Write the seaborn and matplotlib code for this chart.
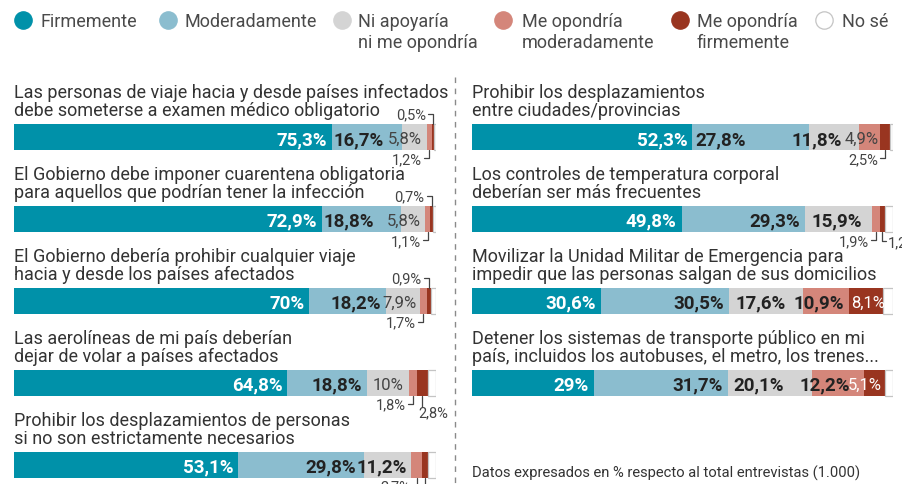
import matplotlib.pyplot as plt
import matplotlib as mpl
import numpy as np
import seaborn as sns
from matplotlib.lines import Line2D

sns.set_style('white')
mpl.rcParams['font.family'] = ['Roboto', 'DejaVu Sans']

W, H = 903, 485

CATEGORIES = ['Firmemente', 'Moderadamente', 'Ni apoyaría\nni me opondría',
              'Me opondría\nmoderadamente', 'Me opondría\nfirmemente', 'No sé']
COLORS = ['#0091a9', '#8bbdcf', '#d4d4d4', '#d4867a', '#993520', '#ffffff']

LEFT_ROWS = ['Las personas de viaje hacia y desde países infectados\ndebe someterse a examen médico obligatorio',
             'El Gobierno debe imponer cuarentena obligatoria\npara aquellos que podrían tener la infección',
             'El Gobierno debería prohibir cualquier viaje\nhacia y desde los países afectados',
             'Las aerolíneas de mi país deberían\ndejar de volar a países afectados',
             'Prohibir los desplazamientos de personas\nsi no son estrictamente necesarios']
LEFT_FIRME = [75.3, 72.9, 70.0, 64.8, 53.1]
LEFT_MODERADO = [16.7, 18.8, 18.2, 18.8, 29.8]
LEFT_NEUTRO = [5.8, 5.8, 7.9, 10.0, 11.2]
LEFT_OPON_MOD = [1.2, 1.1, 1.7, 1.8, 2.7]
LEFT_OPON_FIRME = [0.5, 0.7, 0.9, 2.8, 1.4]
LEFT_NOSE = [0.5, 0.7, 1.3, 1.8, 1.8]

RIGHT_ROWS = ['Prohibir los desplazamientos\nentre ciudades/provincias',
              'Los controles de temperatura corporal\ndeberían ser más frecuentes',
              'Movilizar la Unidad Militar de Emergencia para\nimpedir que las personas salgan de sus domicilios',
              'Detener los sistemas de transporte público en mi\npaís, incluidos los autobuses, el metro, los trenes...']
RIGHT_FIRME = [52.3, 49.8, 30.6, 29.0]
RIGHT_MODERADO = [27.8, 29.3, 30.5, 31.7]
RIGHT_NEUTRO = [11.8, 15.9, 17.6, 20.1]
RIGHT_OPON_MOD = [4.9, 1.9, 10.9, 12.2]
RIGHT_OPON_FIRME = [2.5, 1.2, 8.1, 5.1]
RIGHT_NOSE = [0.7, 1.9, 2.3, 1.9]

# layout (pixels)
ROW_PX = 82
BAR_PX = 26
BAR_H = BAR_PX / ROW_PX
YLIM = (4.2, -0.5)
TITLE_BASELINES = (27, 9)  # px above bar top, line 1 / line 2

# label placement tweaks: (panel, row, cat) -> (anchor, px offset)
INSIDE_POS = {
    ('L', 0, 1): ('left', 2), ('L', 1, 1): ('left', 2), ('R', 0, 1): ('left', 3),
    ('L', 4, 1): ('right', -8), ('L', 4, 2): ('right', -4), ('L', 2, 2): ('right', -3),
    ('R', 0, 2): ('right', -17), ('R', 1, 2): ('right', -10),
    ('R', 2, 2): ('left', 6), ('R', 3, 2): ('left', 6),
    ('R', 0, 3): ('right', -1), ('R', 3, 3): ('right', -14),
    ('R', 2, 4): ('left', 2), ('R', 3, 4): ('right', -3),
}
CALLOUTS = {
    ('L', 0, 3): 'below', ('L', 0, 4): 'above',
    ('L', 1, 3): 'below', ('L', 1, 4): 'above',
    ('L', 2, 3): 'below', ('L', 2, 4): 'above',
    ('L', 3, 3): 'below', ('L', 3, 4): 'drop',
    ('L', 4, 3): 'below', ('L', 4, 4): 'drop',
    ('R', 0, 4): 'below',
    ('R', 1, 3): 'below', ('R', 1, 4): 'side',
}


def fmt(v):
    return f'{v:g}'.replace('.', ',') + '%'


def draw_panel(ax, key, rows, series, width_px):
    xpx = 100 / width_px
    ypx = 1 / ROW_PX
    starts = np.zeros(len(rows))
    for cat, color, vals in zip(CATEGORIES, COLORS, series):
        last = cat == 'No sé'
        sns.barplot(x=vals, y=rows, order=rows, left=starts, color=color,
                    saturation=1, width=BAR_H, errorbar=None, orient='h', ax=ax,
                    linewidth=0.9 if last else 0, edgecolor='#c4c4c4' if last else color)
        starts = starts + np.array(vals)
    ax.set_xlim(0, 100)
    ax.set_ylim(*YLIM)
    ax.axis('off')

    for r, title in enumerate(rows):
        top = r - BAR_H / 2
        bot = r + BAR_H / 2
        for line, off in zip(title.split('\n'), TITLE_BASELINES):
            ax.text(0, top - off * ypx, line, va='baseline', ha='left', fontsize=13,
                    color='#333333')
        s = 0
        for c in range(5):
            v = series[c][r]
            end = s + v
            if v >= 4.5:
                bold = v >= 10.5
                if c in (0, 4):
                    tc = 'white'
                else:
                    tc = '#222222' if bold else '#444444'
                anchor, off = INSIDE_POS.get((key, r, c), ('right', -5))
                x = (s if anchor == 'left' else end) + off * xpx
                ax.text(x, r, fmt(v), ha=anchor, va='center_baseline', color=tc,
                        fontsize=13.5 if bold else 12,
                        fontweight='bold' if bold else 'normal')
            else:
                style = CALLOUTS.get((key, r, c))
                xc = s + v / 2
                lk = dict(color='#444444', lw=0.9, clip_on=False)
                tk = dict(fontsize=10.5, color='#444444')
                if style == 'above':
                    yl = top - 10 * ypx
                    ax.plot([xc - 5 * xpx, xc, xc], [yl, yl, top], **lk)
                    ax.text(xc - 7 * xpx, yl, fmt(v), ha='right', va='center', **tk)
                elif style == 'below':
                    yl = bot + 8 * ypx
                    ax.plot([xc - 5 * xpx, xc, xc], [yl, yl, bot], **lk)
                    ax.text(xc - 7 * xpx, yl + 1 * ypx, fmt(v), ha='right', va='center', **tk)
                elif style == 'drop':
                    ax.plot([xc, xc], [bot, bot + 11 * ypx], **lk)
                    ax.text(xc - 4 * xpx, bot + 10 * ypx, fmt(v), ha='left', va='top', **tk)
                elif style == 'side':
                    yl = bot + 9 * ypx
                    ax.plot([xc, xc, xc + 4 * xpx], [bot, yl, yl], **lk)
                    ax.text(xc + 5 * xpx, yl + 1 * ypx, fmt(v), ha='left', va='center', **tk)
            s = end


fig = plt.figure(figsize=(W / 100, H / 100), dpi=100)
fig.patch.set_facecolor('white')

ax_top, ax_bot = 97, 482
axL = fig.add_axes([14 / W, 1 - ax_bot / H, 422 / W, (ax_bot - ax_top) / H])
axR = fig.add_axes([472 / W, 1 - ax_bot / H, 421 / W, (ax_bot - ax_top) / H])

draw_panel(axL, 'L', LEFT_ROWS,
           [LEFT_FIRME, LEFT_MODERADO, LEFT_NEUTRO, LEFT_OPON_MOD, LEFT_OPON_FIRME, LEFT_NOSE], 422)
draw_panel(axR, 'R', RIGHT_ROWS,
           [RIGHT_FIRME, RIGHT_MODERADO, RIGHT_NEUTRO, RIGHT_OPON_MOD, RIGHT_OPON_FIRME, RIGHT_NOSE], 421)

# legend
legend_x = [(23, 40), (168, 185), (342, 358), (503, 522), (680, 697), (824, 842)]
for (cx, tx), cat, col in zip(legend_x, CATEGORIES, COLORS):
    fig.add_artist(Line2D([cx / W], [1 - 21 / H], marker='o', markersize=12.5,
                          markerfacecolor=col, markeredgecolor='#c4c4c4' if cat == 'No sé' else col,
                          markeredgewidth=0.9, linestyle='none'))
    fig.text(tx / W, 1 - 13 / H, cat, ha='left', va='top', fontsize=13,
             color='#4a4a4a', linespacing=1.18)

# divider
fig.add_artist(Line2D([455 / W, 455 / W], [1 - 78 / H, 0], color='#8a8a8a', lw=1,
                      linestyle=(0, (4, 4))))

fig.text(472 / W, 1 - 473 / H, 'Datos expresados en % respecto al total entrevistas (1.000)',
         ha='left', va='center', fontsize=10.6, color='#333333')

fig.savefig('out.png', dpi=100)
